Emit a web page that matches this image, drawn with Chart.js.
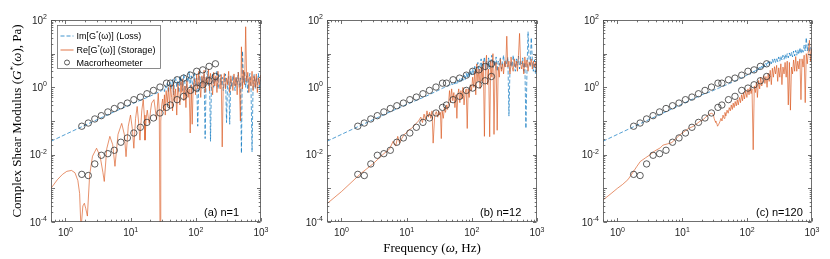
<!DOCTYPE html>
<html lang="en">
<head>
<meta charset="UTF-8">
<title>Complex Shear Modulus</title>
<script src="https://cdn.jsdelivr.net/npm/chart.js"></script>
<style>
body { margin: 0; background: #fff; }
#wrap { position: relative; width: 830px; height: 259px; }
#wrap canvas { position: absolute; left: 0; top: 0; }
</style>
</head>
<body>
<div id="wrap">
  <canvas id="panelA" width="830" height="259"></canvas>
  <canvas id="panelB" width="830" height="259"></canvas>
  <canvas id="panelC" width="830" height="259"></canvas>
</div>
<script>
// tick labels (powers of ten)
const xTickExp = [0, 1, 2, 3];
const yTickExp = [-4, -2, 0, 2];

// macrorheometer points (same in every panel)
const macroFreq = [1.78, 2.24, 2.82, 3.55, 4.47, 5.62, 7.08, 8.91, 11.2, 14.1,
  17.8, 22.4, 28.2, 35.5, 40.8, 51.6, 65, 82.5, 103, 128, 160, 200];
const macroLoss = [0.07, 0.087, 0.115, 0.144, 0.186, 0.235, 0.284, 0.341, 0.43, 0.514,
  0.645, 0.81, 1.02, 1.33, 1.33, 1.68, 1.88, 2.3, 3.0, 3.3, 4.2, 5.0];
const macroStore = [0.0026, 0.0024, 0.0053, 0.0096, 0.0107, 0.0135, 0.0234, 0.0314, 0.044, 0.065,
  0.091, 0.123, 0.173, 0.254, 0.298, 0.43, 0.54, 0.81, 0.95, 1.19, 1.57, 2.1];

// frequency grid of the noisy high-frequency part (Hz)
const noiseFreq = [30, 31, 32, 33, 34, 35, 36.5, 38, 39.5, 41,
  42.5, 44, 45.5, 47, 49, 51, 53, 55, 57, 59,
  61, 63, 65.5, 68, 70.5, 73, 76, 79, 82, 85,
  88, 91, 95, 99, 103, 107, 111, 115, 119, 124,
  129, 134, 139, 144, 150, 156, 162, 168, 174, 181,
  188, 195, 203, 211, 219, 227, 236, 245, 254, 264,
  274, 285, 296, 307, 319, 331, 344, 357, 371, 385,
  400, 415, 431, 448, 465, 483, 501, 520, 540, 561,
  582, 604, 627, 651, 676, 702, 729, 757, 786, 816,
  847, 879, 913, 948, 984, 1000];

// (a) n=1
const lossLowFreqA = [0.6, 1, 2, 5, 10, 20];
const lossLowA = [0.025, 0.04, 0.075, 0.17, 0.31, 0.55];
const lossNoiseA = [0.8, 0.85, 0.9, 0.75, 1.1, 0.95, 1.3, 0.7, 1.2, 1.5,
  0.9, 1.7, 0.6, 1.4, 2.0, 1.0, 1.6, 0.7, 2.2, 1.2,
  1.8, 0.8, 2.5, 1.3, 0.55, 2.0, 1.4, 3.0, 1.0, 2.2,
  1.5, 0.7, 2.6, 1.2, 1.9, 0.07, 1.6, 2.8, 1.1, 2.0,
  1.3, 2.4, 0.03, 1.7, 3.0, 1.1, 2.2, 0.025, 1.5, 2.6,
  1.0, 2.0, 1.4, 3.2, 0.9, 1.8, 2.4, 1.2, 2.0, 0.8,
  1.6, 2.5, 0.09, 1.3, 2.1, 0.08, 1.7, 1.0, 2.3, 1.4,
  0.8, 2.0, 1.2, 2.8, 1.0, 1.9, 0.011, 12, 1.4, 3.0,
  1.0, 2.2, 0.7, 1.8, 2.6, 1.1, 0.012, 1.5, 2.4, 0.9,
  2.0, 1.2, 2.6, 0.9, 1.7, 1.3];
const storeLowFreqA = [0.6, 0.75, 0.9, 1.05, 1.24, 1.4, 1.55, 1.65, 1.73, 1.85,
  1.95, 2.05, 2.17, 2.35, 2.6, 3.0, 3.4, 3.75, 3.94, 4.3,
  4.8, 5.3, 5.75, 6.4, 7.3, 8.0, 8.5, 9.2, 9.96, 10.6,
  11.2, 11.9, 12.6, 13.2, 13.9, 14.8, 15.6, 16.2, 16.6, 17.3,
  18, 18.7, 19.3, 20.2, 21, 22.8, 24, 25, 26.5, 27.5,
  28.3, 29];
const storeLowA = [0.001, 0.0018, 0.0026, 0.0032, 0.0034, 0.0029, 0.0017, 0.0007, 0.00006, 0.0003,
  0.00036, 0.00025, 0.00015, 0.0025, 0.009, 0.0155, 0.009, 0.003, 0.0016, 0.015,
  0.035, 0.02, 0.0045, 0.04, 0.085, 0.04, 0.0087, 0.07, 0.15, 0.06,
  0.0155, 0.12, 0.27, 0.1, 0.027, 0.2, 0.43, 0.15, 0.027, 0.12,
  0.21, 0.12, 0.085, 0.2, 0.34, 0.43, 0.2, 0.11, 0.67, 0.2,
  0.00003, 0.1];
const storeNoiseA = [0.3, 0.45, 0.2, 0.6, 0.15, 0.8, 0.35, 1.0, 0.25, 1.2,
  0.5, 0.2, 1.4, 0.4, 0.9, 0.15, 1.3, 0.6, 0.3, 1.5,
  0.7, 1.8, 0.4, 1.1, 0.25, 1.6, 0.5, 0.9, 0.044, 1.2,
  0.08, 1.0, 1.8, 0.6, 2.4, 0.9, 3.0, 1.2, 0.5, 2.2,
  1.0, 3.2, 0.7, 2.0, 1.2, 3.5, 0.8, 2.6, 1.4, 0.6,
  2.8, 1.1, 2.2, 0.7, 3.0, 1.3, 0.9, 2.4, 0.017, 1.6,
  2.6, 0.9, 1.9, 1.2, 3.0, 0.7, 2.2, 1.4, 0.8, 2.5,
  1.1, 2.0, 0.6, 2.8, 1.3, 0.1, 16, 0.9, 3.2, 1.2,
  63, 1.5, 2.8, 0.7, 2.0, 1.1, 3.0, 0.8, 2.2, 1.0,
  2.5, 0.7, 1.9, 1.2, 2.3, 1.6];

// (b) n=12
const lossLowFreqB = [0.6, 1, 2, 5, 10, 20];
const lossLowB = [0.025, 0.04, 0.075, 0.17, 0.31, 0.55];
const lossNoiseB = [0.8, 0.82, 0.85, 0.88, 0.9, 0.93, 0.96, 1.0, 1.02, 1.06,
  1.1, 1.12, 1.2, 1.1, 1.3, 1.2, 1.4, 1.25, 1.5, 1.3,
  1.6, 1.4, 1.8, 1.5, 2.0, 1.6, 2.3, 1.7, 2.6, 1.9,
  2.8, 2.0, 3.2, 2.2, 3.6, 2.4, 4.2, 2.6, 3.8, 5.5,
  2.8, 4.5, 7.0, 3.0, 5.0, 8.0, 3.2, 6.0, 4.0, 7.5,
  3.5, 5.5, 9.0, 3.8, 6.5, 4.2, 8.0, 3.0, 6.0, 4.5,
  7.5, 3.5, 5.5, 9.0, 4.0, 6.5, 5.0, 8.0, 0.14, 3.5,
  6.0, 4.0, 9.0, 5.0, 3.0, 7.0, 4.5, 8.5, 3.5, 6.0,
  5.0, 7.5, 3.0, 5.5, 0.06, 3.0, 45, 6.0, 4.0, 30,
  7.0, 3.0, 6.5, 2.5, 5.5, 3.5];
const storeLowFreqB = [0.6, 1, 2, 3, 4.3, 5.5, 6.2, 6.8, 7.3, 7.8,
  8.4, 9.2, 10, 10.9, 11.8, 12.8, 14, 15.2, 16.5, 17.5,
  18.5, 19.5, 20.5, 21.5, 22.5, 23.5, 24.5, 25.5, 27, 28.5];
const storeLowB = [0.00035, 0.0008, 0.0028, 0.0052, 0.01, 0.015, 0.025, 0.018, 0.035, 0.022,
  0.03, 0.04, 0.045, 0.055, 0.06, 0.07, 0.085, 0.1, 0.13, 0.09,
  0.16, 0.11, 0.2, 0.13, 0.18, 0.12, 0.2, 0.022, 0.15, 0.19];
const storeNoiseB = [0.13, 0.2, 0.15, 0.18, 0.03, 0.2, 0.12, 0.25, 0.18, 0.3,
  0.22, 0.35, 0.8, 0.35, 0.9, 0.4, 0.7, 0.25, 0.6, 0.12,
  0.6, 0.9, 0.35, 0.8, 0.45, 1.0, 0.3, 0.7, 0.9, 0.06,
  0.9, 0.5, 1.2, 0.8, 2.0, 1.0, 3.0, 0.6, 5.0, 1.5,
  3.5, 0.9, 4.0, 1.5, 6.0, 0.035, 4.0, 9.0, 1.2, 3.5,
  0.034, 6.0, 2.0, 10, 0.04, 3.0, 5.5, 0.053, 4.0, 2.0,
  7.0, 3.0, 5.0, 2.5, 6.0, 4.0, 33, 4.0, 6.0, 2.5,
  8.0, 4.0, 3.0, 7.0, 4.0, 6.0, 3.0, 9.0, 40, 5.0,
  3.5, 6.0, 2.5, 8.0, 4.0, 6.5, 3.0, 5.5, 4.5, 7.0,
  3.5, 6.0, 4.0, 5.5, 3.0, 6.0];

// (c) n=120
const lossLowFreqC = [0.6, 1, 2, 5, 10, 20];
const lossLowC = [0.025, 0.04, 0.075, 0.17, 0.32, 0.6];
const lossNoiseC = [0.8, 0.83, 0.85, 0.88, 0.9, 0.92, 0.95, 0.98, 1.02, 1.05,
  1.08, 1.1, 1.14, 1.17, 1.2, 1.25, 1.3, 1.33, 1.37, 1.42,
  1.46, 1.5, 1.56, 1.6, 1.66, 1.72, 1.78, 1.85, 1.9, 1.97,
  2.0, 2.1, 2.2, 2.3, 2.4, 2.5, 2.4, 2.8, 2.6, 3.0,
  2.8, 3.4, 3.0, 3.8, 3.3, 4.2, 3.6, 4.5, 3.8, 5.0,
  4.0, 5.2, 4.3, 5.8, 4.6, 6.2, 5.0, 6.8, 5.2, 7.0,
  5.5, 7.5, 5.8, 8.0, 6.0, 8.5, 6.5, 9.0, 6.8, 9.5,
  7.0, 10, 7.5, 10.5, 8.0, 11, 8.0, 12, 8.5, 12.5,
  9.0, 13, 9.5, 15, 10, 14, 11, 18, 12, 30,
  12, 20, 11, 16, 13, 12];
const storeLowFreqC = [0.6, 0.8, 1.0, 1.2, 1.45, 1.7, 2.0, 2.26, 2.7, 3.2,
  3.8, 4.6, 5.0, 5.4, 6.0, 6.9, 8.0, 9.2, 11, 12.5,
  14.7, 17, 19, 21, 23, 25, 28];
const storeLowC = [0.00045, 0.0007, 0.001, 0.0013, 0.0018, 0.0028, 0.0045, 0.0063, 0.008, 0.01,
  0.013, 0.016, 0.019, 0.02, 0.021, 0.023, 0.03, 0.039, 0.05, 0.06,
  0.069, 0.085, 0.1, 0.11, 0.13, 0.15, 0.17];
const storeNoiseC = [0.16, 0.12, 0.1, 0.09, 0.087, 0.07, 0.08, 0.095, 0.12, 0.1,
  0.15, 0.12, 0.18, 0.14, 0.21, 0.17, 0.25, 0.2, 0.3, 0.22,
  0.34, 0.25, 0.38, 0.28, 0.43, 0.3, 0.5, 0.35, 0.6, 0.4,
  0.7, 0.45, 0.8, 0.5, 0.9, 0.6, 1.0, 0.65, 0.9, 0.014,
  1.1, 0.7, 1.4, 0.5, 1.6, 0.9, 2.0, 1.1, 1.6, 2.2,
  1.3, 2.1, 1.0, 2.6, 1.5, 3.2, 1.2, 3.7, 2.0, 4.1,
  2.5, 4.5, 1.5, 3.8, 2.0, 5.0, 1.2, 4.0, 2.5, 5.5,
  2.0, 6.0, 0.3, 5.5, 0.21, 4.0, 2.5, 6.5, 3.0, 8.2,
  3.0, 6.0, 3.5, 7.0, 0.43, 7.0, 4.0, 9.0, 0.35, 10,
  5.0, 12, 25, 6.0, 14, 10];

const BLUE = 'rgba(0, 114, 189, 0.75)';
const ORANGE = 'rgba(217, 83, 25, 0.8)';
const CIRCLE = '#333333';
const SANS = '"Liberation Sans", Arial, sans-serif';
const SERIF = '"Liberation Serif", "Times New Roman", serif';

function pts(xs, ys) {
  return xs.map((x, i) => ({ x: x, y: ys[i] }));
}

// draw a list of [text, font, dy] runs starting at x
function runsWidth(ctx, runs) {
  let w = 0;
  runs.forEach(r => { ctx.font = r[1]; w += ctx.measureText(r[0]).width; });
  return w;
}
function drawRuns(ctx, runs, x, y) {
  runs.forEach(r => {
    ctx.font = r[1];
    ctx.fillText(r[0], x, y + (r[2] || 0));
    x += ctx.measureText(r[0]).width;
  });
}
function powRuns(e) {
  return [['10', '10px ' + SANS, 0], [String(e), '7px ' + SANS, -4.5]];
}

const deco = {
  id: 'deco',
  afterDraw(chart, args, opts) {
    const ctx = chart.ctx, a = chart.chartArea;
    const xs = chart.scales.x, ys = chart.scales.y;
    const L = Math.round(a.left) + 0.5, R = Math.round(a.right) - 0.5;
    const T = Math.round(a.top) + 0.5, B = Math.round(a.bottom) - 0.5;
    ctx.save();
    ctx.strokeStyle = '#4d4d4d';
    ctx.lineWidth = 0.8;
    ctx.strokeRect(L, T, R - L, B - T);

    // inward ticks on all four sides
    ctx.beginPath();
    for (let e = -1; e <= 3; e++) {
      for (let m = 1; m <= 9; m++) {
        const v = m * Math.pow(10, e);
        if (v < xs.min || v > xs.max) continue;
        const p = Math.round(xs.getPixelForValue(v)) + 0.5;
        const len = m === 1 ? 3.5 : 1.8;
        ctx.moveTo(p, B); ctx.lineTo(p, B - len);
        ctx.moveTo(p, T); ctx.lineTo(p, T + len);
      }
    }
    for (let e = -4; e <= 2; e++) {
      for (let m = 1; m <= 9; m++) {
        const v = m * Math.pow(10, e);
        if (v < ys.min || v > ys.max) continue;
        const p = Math.round(ys.getPixelForValue(v)) + 0.5;
        const len = m === 1 ? 3.5 : 1.8;
        ctx.moveTo(L, p); ctx.lineTo(L + len, p);
        ctx.moveTo(R, p); ctx.lineTo(R - len, p);
      }
    }
    ctx.stroke();

    // tick labels
    ctx.fillStyle = '#262626';
    ctx.textBaseline = 'alphabetic';
    ctx.textAlign = 'left';
    xTickExp.forEach(e => {
      const p = xs.getPixelForValue(Math.pow(10, e));
      const runs = powRuns(e);
      drawRuns(ctx, runs, p - runsWidth(ctx, runs) / 2, a.bottom + 14);
    });
    yTickExp.forEach(e => {
      const p = ys.getPixelForValue(Math.pow(10, e));
      const runs = powRuns(e);
      drawRuns(ctx, runs, a.left - 4 - runsWidth(ctx, runs), p + 3.5);
    });

    // panel label
    ctx.font = '11px ' + SANS;
    ctx.fillStyle = '#000';
    ctx.fillText(opts.label, a.left + 153, 216);

    if (opts.yTitle) {
      const runs = [['Complex Shear Modulus (', '13px ' + SERIF], ['G', 'italic 13px ' + SERIF],
        ['*', '9px ' + SERIF, -5], ['(', '13px ' + SERIF], ['\u03c9', 'italic 13px ' + SERIF],
        ['), Pa)', '13px ' + SERIF]];
      ctx.save();
      ctx.translate(21, (a.top + a.bottom) / 2);
      ctx.rotate(-Math.PI / 2);
      drawRuns(ctx, runs, -runsWidth(ctx, runs) / 2, 0);
      ctx.restore();
    }
    if (opts.xTitle) {
      const runs = [['Frequency (', '13px ' + SERIF], ['\u03c9', 'italic 13px ' + SERIF],
        [', Hz)', '13px ' + SERIF]];
      drawRuns(ctx, runs, (a.left + a.right) / 2 - runsWidth(ctx, runs) / 2, 252);
    }

    if (opts.legend) {
      const bx = a.left + 6.5, by = 25.5, bw = 103, bh = 43;
      ctx.fillStyle = '#fff';
      ctx.fillRect(bx, by, bw, bh);
      ctx.strokeStyle = '#6e6e6e';
      ctx.lineWidth = 0.8;
      ctx.strokeRect(bx, by, bw, bh);
      const tx = bx + 19;
      const rows = [36, 50, 62.5];
      ctx.lineWidth = 1;
      ctx.strokeStyle = BLUE;
      ctx.setLineDash([4, 2]);
      ctx.beginPath(); ctx.moveTo(bx + 3, rows[0]); ctx.lineTo(bx + 16, rows[0]); ctx.stroke();
      ctx.setLineDash([]);
      ctx.strokeStyle = ORANGE;
      ctx.beginPath(); ctx.moveTo(bx + 3, rows[1]); ctx.lineTo(bx + 16, rows[1]); ctx.stroke();
      ctx.strokeStyle = CIRCLE;
      ctx.lineWidth = 0.8;
      ctx.beginPath(); ctx.arc(bx + 9.5, rows[2], 2.5, 0, Math.PI * 2); ctx.stroke();
      ctx.fillStyle = '#000';
      const f = '9px ' + SANS, fs = '6px ' + SANS;
      drawRuns(ctx, [['Im[G', f], ['*', fs, -4], ['(\u03c9)] (Loss)', f]], tx, rows[0] + 3);
      drawRuns(ctx, [['Re[G', f], ['*', fs, -4], ['(\u03c9)] (Storage)', f]], tx, rows[1] + 3);
      drawRuns(ctx, [['Macrorheometer', f]], tx, rows[2] + 3);
    }
    ctx.restore();
  }
};

function makePanel(id, left, right, lossF, lossV, storeF, storeV, opts) {
  const circle = {
    showLine: false, pointRadius: 3.2, pointHoverRadius: 3.2,
    pointBackgroundColor: 'rgba(0,0,0,0)', pointBorderColor: CIRCLE, pointBorderWidth: 0.8
  };
  new Chart(document.getElementById(id), {
    type: 'line',
    data: {
      datasets: [
        Object.assign({ label: 'Macrorheometer', data: pts(macroFreq, macroLoss) }, circle),
        Object.assign({ label: 'Macrorheometer', data: pts(macroFreq, macroStore) }, circle),
        {
          label: 'Re[G*(\u03c9)] (Storage)', data: pts(storeF, storeV),
          borderColor: ORANGE, borderWidth: 0.8, pointRadius: 0, tension: 0
        },
        {
          label: 'Im[G*(\u03c9)] (Loss)', data: pts(lossF, lossV),
          borderColor: BLUE, borderWidth: 0.9, borderDash: [4, 2], pointRadius: 0, tension: 0
        }
      ]
    },
    options: {
      responsive: false,
      animation: false,
      events: [],
      layout: { padding: { left: left, right: 830 - right, top: 20, bottom: 37 } },
      scales: {
        x: { type: 'logarithmic', min: 0.6, max: 1000, display: false },
        y: { type: 'logarithmic', min: 1e-4, max: 100, display: false }
      },
      plugins: {
        legend: { display: false },
        tooltip: { enabled: false },
        deco: opts
      }
    },
    plugins: [deco]
  });
}

makePanel('panelA', 51, 261,
  lossLowFreqA.concat(noiseFreq), lossLowA.concat(lossNoiseA),
  storeLowFreqA.concat(noiseFreq), storeLowA.concat(storeNoiseA),
  { label: '(a) n=1', yTitle: true, legend: true });
makePanel('panelB', 327, 537,
  lossLowFreqB.concat(noiseFreq), lossLowB.concat(lossNoiseB),
  storeLowFreqB.concat(noiseFreq), storeLowB.concat(storeNoiseB),
  { label: '(b) n=12', xTitle: true });
makePanel('panelC', 603, 812,
  lossLowFreqC.concat(noiseFreq), lossLowC.concat(lossNoiseC),
  storeLowFreqC.concat(noiseFreq), storeLowC.concat(storeNoiseC),
  { label: '(c) n=120' });
</script>
</body>
</html>
